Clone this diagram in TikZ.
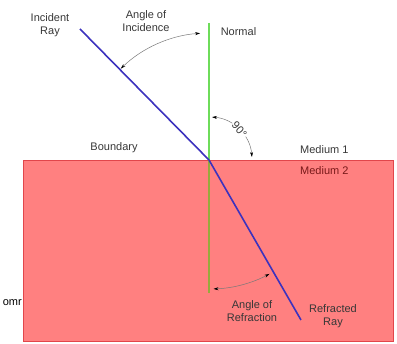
\documentclass[tikz,border=0pt]{standalone}
\usepackage{fontspec}
\setmainfont{Liberation Sans}
\usetikzlibrary{arrows.meta,calc}
\definecolor{medfill}{RGB}{255,128,128}
\definecolor{medline}{RGB}{225,70,75}
\definecolor{normgreen}{RGB}{110,220,90}
\definecolor{normolive}{RGB}{150,170,60}
\definecolor{raycol}{RGB}{60,50,190}
\definecolor{txt}{RGB}{55,55,55}
\definecolor{med2}{RGB}{120,25,25}
\definecolor{arcgrey}{RGB}{120,120,120}
\begin{document}
\begin{tikzpicture}[x=1pt,y=1pt,
  lbl/.style={font=\fontsize{11}{13}\selectfont, text=txt, align=center, inner sep=0pt},
  rayline/.style={draw=raycol, line width=1.6pt},
  normline/.style={line width=1.6pt},
  anglearc/.style={draw=arcgrey, line width=0.5pt, arrows={Stealth[black,length=5pt,width=3pt]-Stealth[black,length=5pt,width=3pt]}}]
\useasboundingbox (0,0) rectangle (397,344);
\clip (0,0) rectangle (397,344);
% medium 2
\path[fill=medfill, draw=medline, line width=0.8pt] (23,3) rectangle (393,184);
% intersection point
\coordinate (O) at (209,184);
\coordinate (ntop) at (209,321);
\coordinate (nbot) at (209,51);
\coordinate (istart) at (80,315);
\coordinate (rend) at (301,24);
% normal
\draw[normline, draw=normgreen] (ntop) -- (O);
\draw[normline, draw=normolive] (O) -- (nbot);
% rays
\draw[rayline] (istart) -- (O);
\draw[rayline] (O) -- (rend);
% angle arcs
\draw[anglearc] ($(O)+(94:127)$) arc[start angle=94, end angle=134, radius=127];
\draw[anglearc] ($(O)+(86:43)$) arc[start angle=86, end angle=4, radius=43];
\node[lbl, fill=white, inner sep=1pt, rotate=-48] (ninety) at ($(O)+(45:43)$) {90°};
\draw[anglearc] ($(O)+(-88:129)$) arc[start angle=-88, end angle=-62, radius=129];
% labels
\node[lbl] (incray) at (50,319) {Incident\\Ray};
\node[lbl] (aoi) at (146,323) {Angle of\\Incidence};
\node[lbl] (normal) at (238.5,312) {Normal};
\node[lbl] (boundary) at (114,196) {Boundary};
\node[lbl, anchor=west] (m1) at (300,194) {Medium 1};
\node[lbl, anchor=west, text=med2] (m2) at (300,173) {Medium 2};
\node[lbl] (aor) at (252,33) {Angle of\\Refraction};
\node[lbl] (refray) at (333,28) {Refracted\\Ray};
\node[lbl, anchor=east, text=black] (omr) at (22,41) {omr};
\end{tikzpicture}
\end{document}
